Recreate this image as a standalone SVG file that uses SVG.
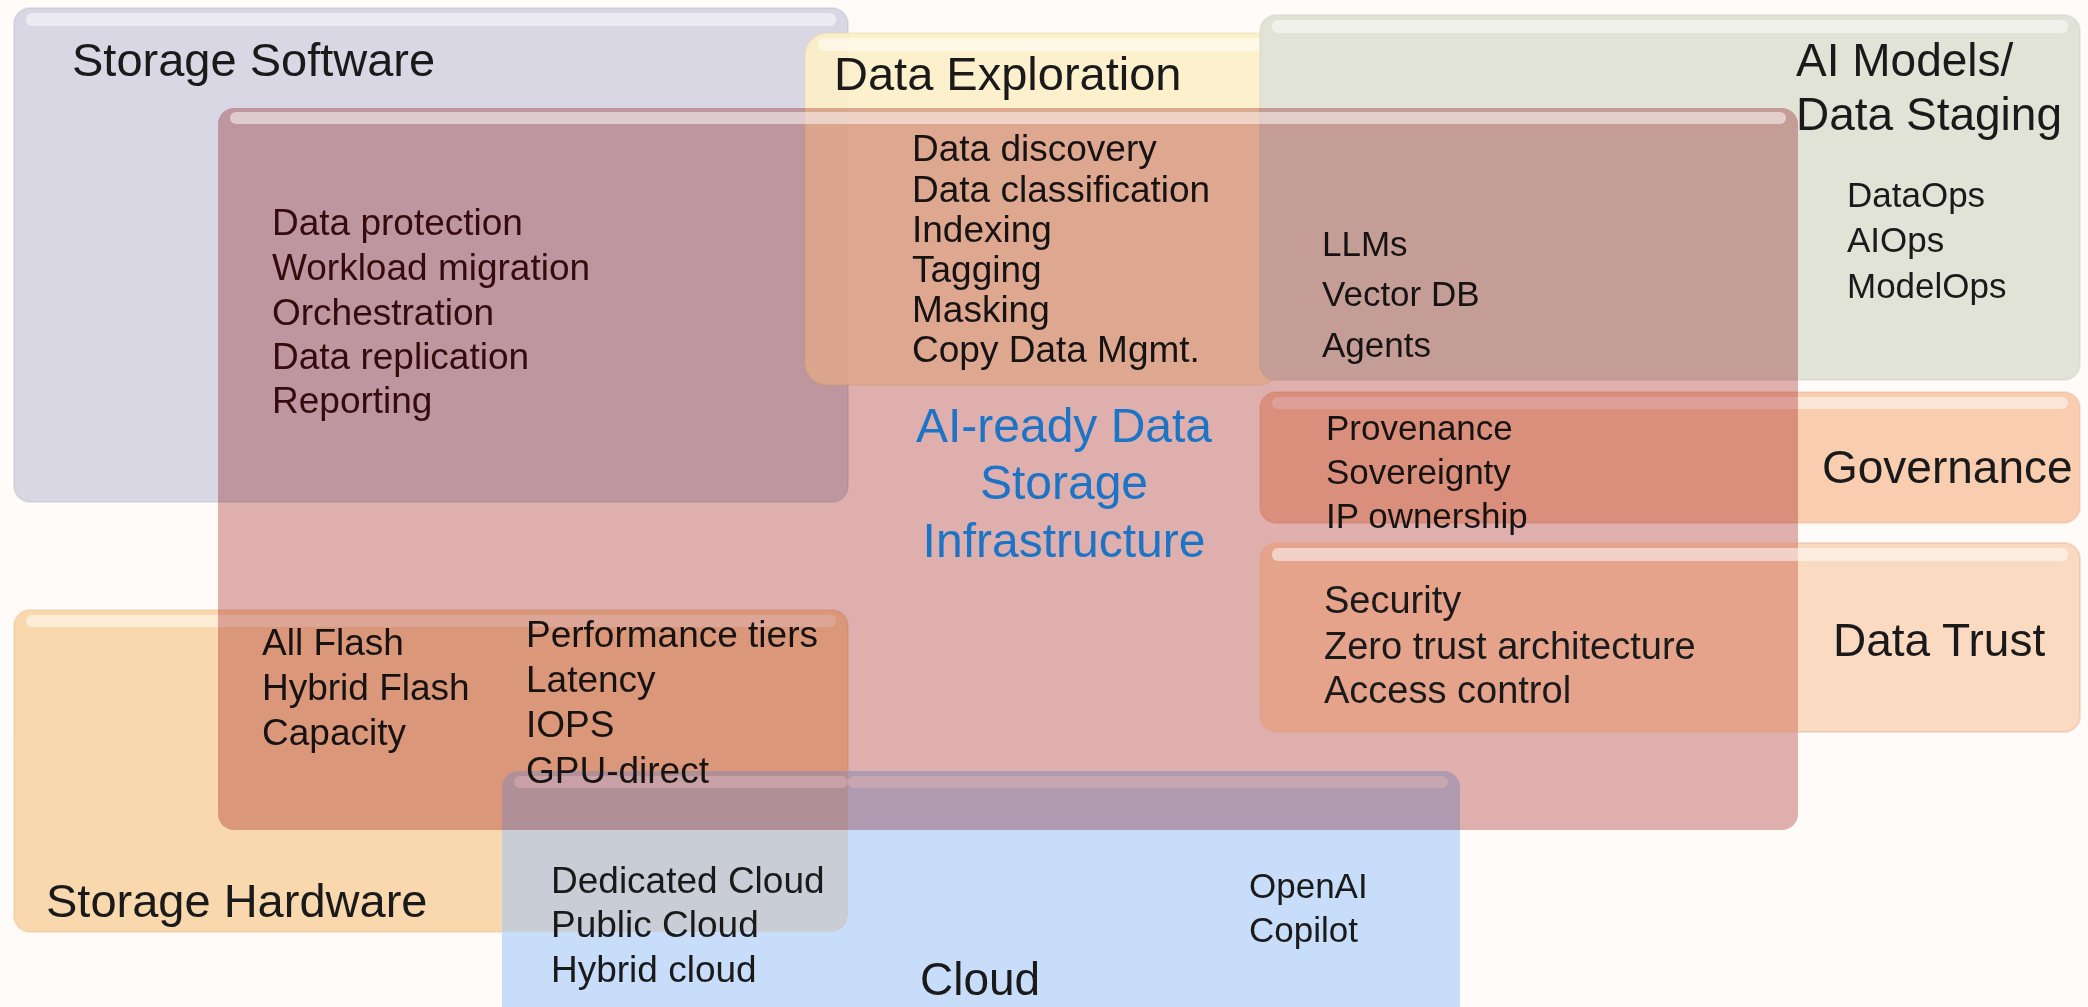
<svg xmlns="http://www.w3.org/2000/svg" width="2088" height="1007" viewBox="0 0 2088 1007">
<style>
text{font-family:"Liberation Sans",Arial,sans-serif;fill:#1a1a1a}
.h{font-size:47px}
.h46{font-size:46px}
.l{font-size:37px}
.l38{font-size:38px}
.l35{font-size:35px}
.mar{fill:#3e0f12}
.box{stroke-width:2;stroke-opacity:0.25}
.gloss{fill:#ffffff;opacity:0.5}
.blue{fill:#1c74c6;font-size:48px;text-anchor:middle}
</style>
<defs>
<clipPath id="notCloud"><path clip-rule="evenodd" d="M0 0H2088V1007H0Z M518 771H1444A16 16 0 0 1 1460 787V1041H502V787A16 16 0 0 1 518 771Z"/></clipPath>
<clipPath id="inCloud"><rect x="502" y="771" width="958" height="270" rx="16"/></clipPath>
<clipPath id="notHw"><path clip-rule="evenodd" d="M0 0H2088V1007H0Z M30 610H832A16 16 0 0 1 848 626V916A16 16 0 0 1 832 932H30A16 16 0 0 1 14 916V626A16 16 0 0 1 30 610Z"/></clipPath>
</defs>
<rect width="2088" height="1007" fill="#fefbf8"/>
<g id="storage-software">
<rect class="box" x="14" y="8" width="834" height="494" rx="16" fill="#d8d7e3" stroke="#a8a7ba"/>
<rect class="gloss" x="26" y="13" width="810" height="13" rx="6"/>
<text class="h" x="72" y="76">Storage Software</text>
<text class="l mar" x="272" y="235">Data protection</text>
<text class="l mar" x="272" y="280">Workload migration</text>
<text class="l mar" x="272" y="325">Orchestration</text>
<text class="l mar" x="272" y="369">Data replication</text>
<text class="l mar" x="272" y="413">Reporting</text>
</g>
<g id="data-exploration">
<rect class="box" x="805" y="33" width="475" height="352" rx="22" fill="#fdefc8" fill-opacity="0.92" stroke="#e8d890"/>
<rect class="gloss" x="818" y="38" width="450" height="13" rx="6"/>
<text class="h" x="834" y="90">Data Exploration</text>
<text class="l" x="912" y="161">Data discovery</text>
<text class="l" x="912" y="202">Data classification</text>
<text class="l" x="912" y="242">Indexing</text>
<text class="l" x="912" y="282">Tagging</text>
<text class="l" x="912" y="322">Masking</text>
<text class="l" x="912" y="362">Copy Data Mgmt.</text>
</g>
<g id="ai-models">
<rect class="box" x="1260" y="15" width="820" height="365" rx="16" fill="#e0e3d6" stroke="#c0c4b4"/>
<rect class="gloss" x="1272" y="20" width="796" height="13" rx="6"/>
<text class="h46" x="1796" y="76">AI Models/</text>
<text class="h46" x="1796" y="130">Data Staging</text>
<text class="l35" x="1847" y="207">DataOps</text>
<text class="l35" x="1847" y="252">AIOps</text>
<text class="l35" x="1847" y="298">ModelOps</text>
<text class="l35" x="1322" y="256">LLMs</text>
<text class="l35" x="1322" y="306">Vector DB</text>
<text class="l35" x="1322" y="357">Agents</text>
</g>
<g id="governance">
<rect class="box" x="1260" y="392" width="820" height="131" rx="16" fill="#f9cdb0" stroke="#e8a888"/>
<rect class="gloss" x="1272" y="397" width="796" height="12" rx="6"/>
<text class="h46" x="1822" y="483">Governance</text>
<text class="l35" x="1326" y="440">Provenance</text>
<text class="l35" x="1326" y="484">Sovereignty</text>
<text class="l35" x="1326" y="528">IP ownership</text>
</g>
<g id="storage-hardware">
<rect class="box" x="14" y="610" width="834" height="322" rx="16" fill="#f9d8ad" stroke="#e0b080" clip-path="url(#notCloud)"/>
<rect x="14" y="610" width="834" height="322" rx="16" fill="#c9cdd6" clip-path="url(#inCloud)"/>
<rect class="gloss" x="514" y="776" width="334" height="12" rx="6" opacity="0.3" clip-path="url(#inCloud)"/>
<rect class="gloss" x="26" y="615" width="810" height="12" rx="6"/>
<text class="h" x="46" y="917">Storage Hardware</text>
<text class="l" x="262" y="655">All Flash</text>
<text class="l" x="262" y="700">Hybrid Flash</text>
<text class="l" x="262" y="745">Capacity</text>
<text class="l" x="526" y="647">Performance tiers</text>
<text class="l" x="526" y="692">Latency</text>
<text class="l" x="526" y="737">IOPS</text>
<text class="l" x="526" y="783">GPU-direct</text>
</g>
<g id="cloud">
<rect x="502" y="771" width="958" height="270" rx="16" fill="#c8ddf9" clip-path="url(#notHw)"/>
<rect class="gloss" x="848" y="776" width="600" height="12" rx="6" opacity="0.3"/>
<text class="h46" x="920" y="995">Cloud</text>
<text class="l" x="551" y="893">Dedicated Cloud</text>
<text class="l" x="551" y="937">Public Cloud</text>
<text class="l" x="551" y="982">Hybrid cloud</text>
<text class="l35" x="1249" y="898">OpenAI</text>
<text class="l35" x="1249" y="942">Copilot</text>
</g>
<g id="ai-ready-data-storage-infrastructure">
<rect x="218" y="108" width="1580" height="722" rx="16" fill="#e0b2b3" style="mix-blend-mode:multiply"/>
<rect class="gloss" x="230" y="112" width="1556" height="12" rx="6" opacity="0.35"/>
<text class="blue" x="1064" y="442">AI-ready Data</text>
<text class="blue" x="1064" y="499">Storage</text>
<text class="blue" x="1064" y="557">Infrastructure</text>
</g>
<g id="data-trust">
<rect x="1260" y="543" width="820" height="189" rx="16" fill="#f38537" fill-opacity="0.28" stroke="#e0a080" stroke-width="2" stroke-opacity="0.3"/>
<rect class="gloss" x="1272" y="548" width="796" height="13" rx="6"/>
<text class="h46" x="1833" y="656">Data Trust</text>
<text class="l38" x="1324" y="613">Security</text>
<text class="l38" x="1324" y="659">Zero trust architecture</text>
<text class="l38" x="1324" y="703">Access control</text>
</g>
<g id="connectors"></g>
</svg>
